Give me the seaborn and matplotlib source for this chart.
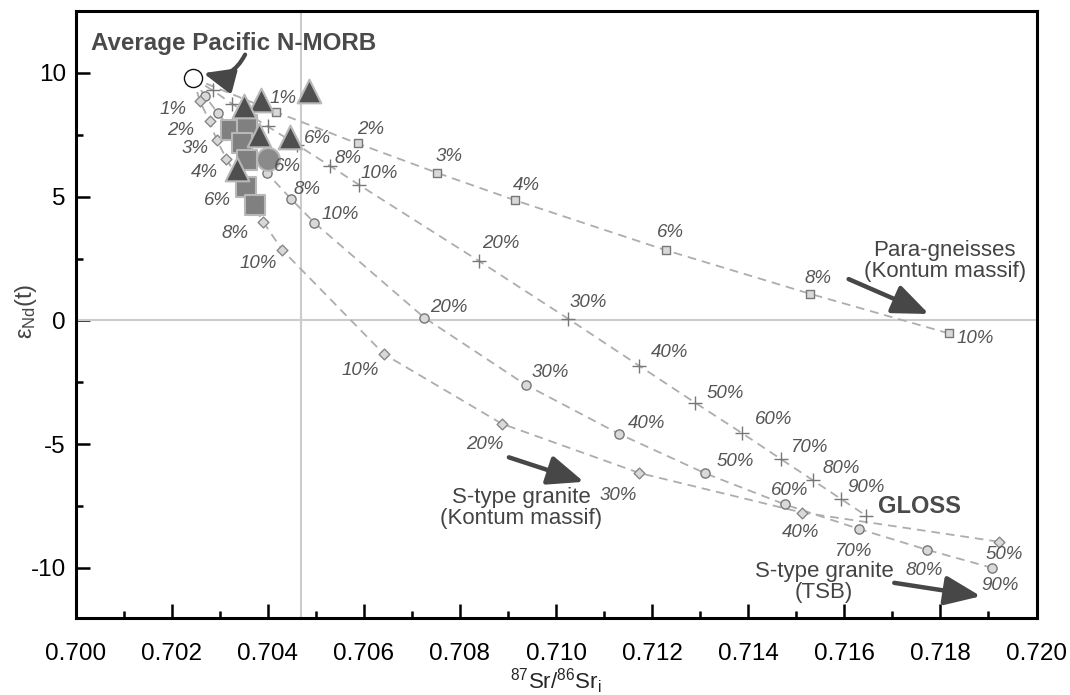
import numpy as np
import pandas as pd
import matplotlib
matplotlib.use("Agg")
import matplotlib.pyplot as plt
import seaborn as sns

# ---------------- data ----------------
morb_x = [0.70244]
morb_y = [9.79]

# Para-gneisses (Kontum massif) mixing curve - squares
para_x = [0.70418, 0.70587, 0.70753, 0.70914, 0.71228, 0.71528, 0.71817]
para_y = [8.41, 7.15, 5.96, 4.86, 2.84, 1.08, -0.52]
para_lab = ["1%", "2%", "3%", "4%", "6%", "8%", "10%"]

# GLOSS mixing curve - plus signs
gloss_x = [0.70286, 0.70325, 0.70400, 0.70462, 0.70530, 0.70589, 0.70839,
           0.71026, 0.71173, 0.71290, 0.71387, 0.71468, 0.71535, 0.71593, 0.71645]
gloss_y = [9.29, 8.76, 7.84, 7.08, 6.24, 5.49, 2.41, 0.06, -1.83, -3.33,
           -4.55, -5.60, -6.46, -7.21, -7.88]
gloss_lab = ["", "", "", "6%", "8%", "10%", "20%", "30%", "40%", "50%",
             "60%", "70%", "80%", "90%", ""]

# S-type granite (TSB) mixing curve - circles
tsb_x = [0.70270, 0.70296, 0.70399, 0.70448, 0.70497, 0.70726, 0.70937,
         0.71132, 0.71311, 0.71476, 0.71630, 0.71773, 0.71907]
tsb_y = [9.05, 8.38, 5.94, 4.92, 3.95, 0.11, -2.60, -4.59, -6.18, -7.43,
         -8.42, -9.27, -9.99]
tsb_lab = ["", "", "6%", "8%", "10%", "20%", "30%", "40%", "50%", "60%",
           "70%", "80%", "90%"]

# S-type granite (Kontum massif) mixing curve - diamonds
kon_x = [0.70259, 0.70279, 0.70294, 0.70314, 0.70351, 0.70391, 0.70430,
         0.70642, 0.70887, 0.71173, 0.71512, 0.71922]
kon_y = [8.86, 8.04, 7.28, 6.54, 5.26, 3.97, 2.85, -1.36, -4.17, -6.16,
         -7.76, -8.94]
kon_lab = ["1%", "2%", "3%", "4%", "6%", "8%", "10%", "10%", "20%", "30%",
           "40%", "50%"]

# samples
tri_x = [0.70485, 0.70386, 0.70350, 0.70381, 0.70447, 0.70337]
tri_y = [9.25, 8.89, 8.67, 7.51, 7.43, 6.11]
sq_x = [0.70324, 0.70357, 0.70346, 0.70357, 0.70355, 0.70374]
sq_y = [7.71, 7.91, 7.17, 6.47, 5.39, 4.68]
cir_x = [0.70400]
cir_y = [6.54]

# ---------------- style ----------------
sns.set_style("ticks")
plt.rcParams["font.family"] = ["Liberation Sans", "DejaVu Sans"]
plt.rcParams["mathtext.default"] = "regular"
plt.rcParams["axes.unicode_minus"] = False

fig = plt.figure(figsize=(10.70, 6.95), dpi=100)
ax = fig.add_axes([75.5 / 1070, 1 - 617.5 / 695, 961 / 1070, 606.5 / 695])

LINE_C = "#adadad"
DASH = (0, (4.8, 3.3))
LAB_C = "#555555"

# reference lines
ax.axvline(0.7047, color="#cccccc", lw=1.5, zorder=1)
ax.axhline(0.0, color="#cccccc", lw=1.5, zorder=1)

# mixing curves (all start at MORB)
for xs, ys in [(para_x, para_y), (gloss_x, gloss_y), (tsb_x, tsb_y), (kon_x, kon_y)]:
    df = pd.DataFrame({"x": morb_x + xs, "y": morb_y + ys})
    sns.lineplot(data=df, x="x", y="y", sort=False, estimator=None, ax=ax,
                 color=LINE_C, lw=1.3, linestyle=DASH, zorder=2)

# small markers on curves
sns.scatterplot(x=para_x, y=para_y, marker="s", s=36, color="#d9d9d9",
                edgecolor="#777777", linewidth=1.0, ax=ax, zorder=3)
sns.scatterplot(x=tsb_x, y=tsb_y, marker="o", s=44, color="#d9d9d9",
                edgecolor="#777777", linewidth=1.0, ax=ax, zorder=3)
sns.scatterplot(x=kon_x, y=kon_y, marker="D", s=30, color="#d9d9d9",
                edgecolor="#888888", linewidth=1.0, ax=ax, zorder=3)
sns.scatterplot(x=gloss_x, y=gloss_y, marker="+", s=110, color="#777777",
                linewidth=1.0, ax=ax, zorder=3)

# samples
sns.scatterplot(x=sq_x, y=sq_y, marker="s", s=190, color="#808080",
                edgecolor="#b8b8b8", linewidth=1.5, ax=ax, zorder=4)
sns.scatterplot(x=cir_x, y=cir_y, marker="o", s=270, color="#8a8a8a",
                edgecolor="#b8b8b8", linewidth=1.5, ax=ax, zorder=4)
sns.scatterplot(x=tri_x, y=tri_y, marker="^", s=290, color="#4f4f4f",
                edgecolor="#b8b8b8", linewidth=1.5, ax=ax, zorder=5)
sns.scatterplot(x=morb_x, y=morb_y, marker="o", s=170, color="white",
                edgecolor="#111111", linewidth=1.0, ax=ax, zorder=6)

# percentage labels (offsets in pixels)
para_off = [(7, 14), (13, 14), (12, 16), (12, 15), (5, 18), (8, 15), (27, -5)]
gloss_off = [(0, 0)] * 3 + [(20, 7), (18, 7), (21, 11), (22, 17), (20, 16),
                            (30, 13), (30, 9), (32, 14), (28, 12), (28, 12),
                            (25, 11), (0, 0)]
tsb_off = [(0, 0), (0, 0), (20, 7), (16, 9), (26, 8), (24, 10), (25, 12),
           (27, 11), (30, 12), (5, 14), (-6, -23), (-3, -21), (8, -18)]
kon_off = [(-27, -8), (-29, -9), (-22, -8), (-22, -14), (-27, -10), (-28, -11),
           (-24, -14), (-24, -16), (-17, -21), (-21, -23), (-1, -20), (5, -13)]

for xs, ys, labs, offs in [(para_x, para_y, para_lab, para_off),
                           (gloss_x, gloss_y, gloss_lab, gloss_off),
                           (tsb_x, tsb_y, tsb_lab, tsb_off),
                           (kon_x, kon_y, kon_lab, kon_off)]:
    for x, y, t, o in zip(xs, ys, labs, offs):
        if t:
            ax.annotate(t, (x, y), xytext=o, textcoords="offset pixels",
                        ha="center", va="center", fontsize=13.5,
                        style="italic", color=LAB_C, zorder=7)

# annotations
TXT_C = "#444444"
ARR_C = "#474747"
ax.annotate("GLOSS", (gloss_x[-1], gloss_y[-1]), xytext=(54, 9),
            textcoords="offset pixels", ha="center", va="center",
            fontsize=17, fontweight="bold", color="#4a4a4a")
ax.text(0.70329, 11.17, "Average Pacific N-MORB", ha="center", va="center",
        fontsize=17.4, fontweight="bold", color="#4a4a4a")
ax.annotate("", xy=(0.70266, 9.99), xytext=(0.70353, 10.74),
            arrowprops=dict(arrowstyle="-|>,head_length=0.9,head_width=0.38",
                            connectionstyle="arc3,rad=-0.4", lw=3.0,
                            color=ARR_C, shrinkA=0, shrinkB=0,
                            mutation_scale=20))
ax.text(0.71809, 2.42, "Para-gneisses\n(Kontum massif)", ha="center",
        va="center", fontsize=16, color=TXT_C, linespacing=1.0)
ax.text(0.70928, -7.56, "S-type granite\n(Kontum massif)", ha="center",
        va="center", fontsize=16, color=TXT_C, linespacing=1.0)
ax.text(0.71558, -10.58, "S-type granite\n(TSB)", ha="center",
        va="center", fontsize=16, color=TXT_C, linespacing=1.0)
for (x0, y0), (x1, y1) in [((0.71609, 1.67), (0.71776, 0.26)),
                           ((0.70902, -5.53), (0.71058, -6.52)),
                           ((0.71704, -10.60), (0.71884, -11.14))]:
    ax.annotate("", xy=(x1, y1), xytext=(x0, y0),
                arrowprops=dict(arrowstyle="-|>,head_length=1.1,head_width=0.45",
                                lw=3.2, color=ARR_C, shrinkA=0, shrinkB=0,
                                mutation_scale=20))

# axes
ax.set_xlim(0.700, 0.720)
ax.set_ylim(-12, 12.5)
ax.set_xticks(np.arange(0.700, 0.7201, 0.002))
ax.set_xticklabels([f"{v:.3f}" for v in np.arange(0.700, 0.7201, 0.002)])
ax.set_xticks(np.arange(0.701, 0.720, 0.002), minor=True)
ax.set_yticks([-10, -5, 0, 5, 10])
ax.set_yticks([-7.5, -2.5, 2.5, 7.5], minor=True)
ax.tick_params(which="both", direction="in", width=1.8, colors="black",
               labelsize=17.5)
ax.tick_params(which="major", length=10)
ax.tick_params(which="minor", length=5)
ax.tick_params(axis="x", pad=18)
ax.tick_params(axis="y", pad=7)
for sp in ax.spines.values():
    sp.set_linewidth(2.2)
    sp.set_color("black")
ax.set_xlabel("$^{87}$Sr/$^{86}$Sr$_i$", fontsize=16)
ax.xaxis.set_label_coords(0.5, -0.080)
ax.set_ylabel("ε$_{Nd}$(t)", fontsize=17, color="#444444")
ax.yaxis.set_label_coords(-0.038, 0.505)

fig.savefig("out.png", dpi=100)
